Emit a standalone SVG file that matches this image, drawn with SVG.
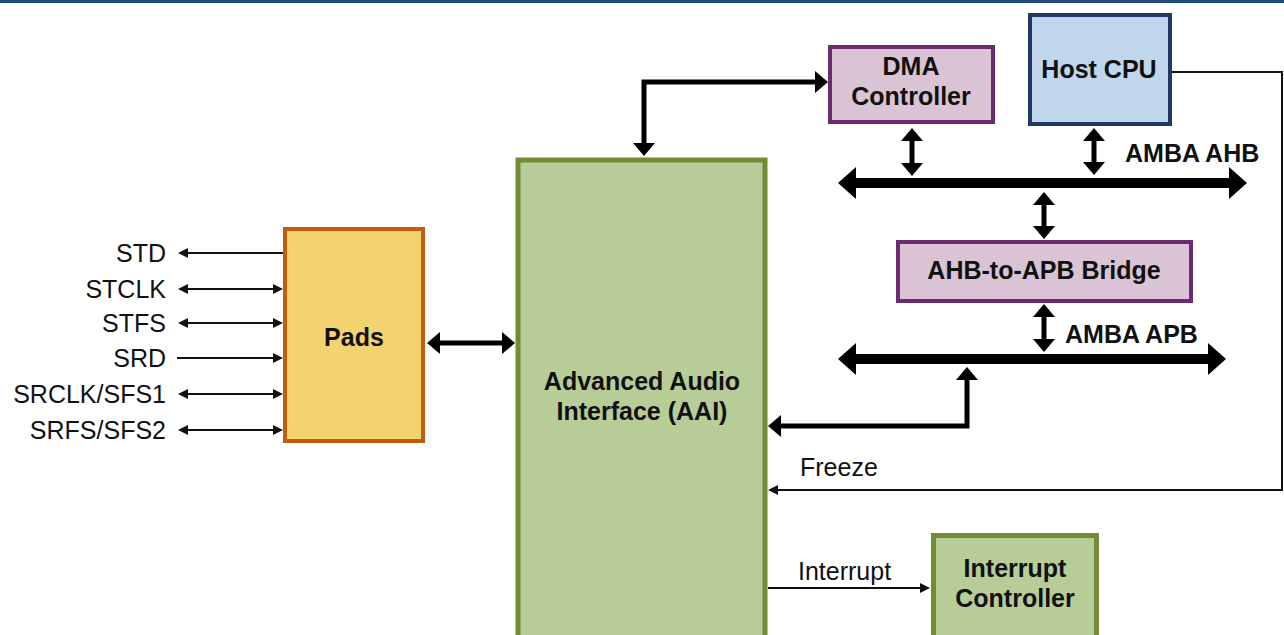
<svg xmlns="http://www.w3.org/2000/svg" width="1284" height="635" viewBox="0 0 1284 635">
<style>
text{font-family:"Liberation Sans",Arial,sans-serif;font-size:25px;fill:#111}
.b{font-weight:bold;text-anchor:middle}
.s{text-anchor:end}
.green{fill:#b8cc98;stroke:#728c35;stroke-width:5}
.purple{fill:#d9c3d4;stroke:#6a2c6e;stroke-width:4}
.thin{stroke:#111;stroke-width:2;fill:none}
.med{stroke:#000;stroke-width:5;fill:none}
.bus{stroke:#000;stroke-width:10;fill:none}
</style>
<defs>
<marker id="t" markerUnits="userSpaceOnUse" markerWidth="10" markerHeight="10" refX="5" refY="5" orient="auto-start-reverse"><path d="M0,0 L10,5 L0,10 z" fill="#111"/></marker>
<marker id="m" markerUnits="userSpaceOnUse" markerWidth="13" markerHeight="22" refX="5" refY="11" orient="auto-start-reverse"><path d="M0,0 L13,11 L0,22 z" fill="#000"/></marker>
<marker id="bh" markerUnits="userSpaceOnUse" markerWidth="18" markerHeight="32" refX="8" refY="16" orient="auto-start-reverse"><path d="M0,0 L18,16 L0,32 z" fill="#000"/></marker>
</defs>
<rect x="0" y="0" width="1284" height="3" fill="#1f497d"/>

<g id="connectors">
<line class="thin" x1="283" y1="253" x2="183" y2="253" marker-end="url(#t)"/>
<line class="thin" x1="183" y1="289" x2="278" y2="289" marker-start="url(#t)" marker-end="url(#t)"/>
<line class="thin" x1="183" y1="323" x2="278" y2="323" marker-start="url(#t)" marker-end="url(#t)"/>
<line class="thin" x1="177" y1="358" x2="278" y2="358" marker-end="url(#t)"/>
<line class="thin" x1="183" y1="394" x2="278" y2="394" marker-start="url(#t)" marker-end="url(#t)"/>
<line class="thin" x1="183" y1="430" x2="278" y2="430" marker-start="url(#t)" marker-end="url(#t)"/>
<line class="med" x1="435" y1="343" x2="507" y2="343" marker-start="url(#m)" marker-end="url(#m)"/>
<path class="med" d="M820 82 L644 82 L644 148" marker-start="url(#m)" marker-end="url(#m)"/>
<line class="med" x1="912" y1="136" x2="912" y2="168" marker-start="url(#m)" marker-end="url(#m)"/>
<line class="med" x1="1094" y1="136" x2="1094" y2="167" marker-start="url(#m)" marker-end="url(#m)"/>
<line class="med" x1="1044" y1="200" x2="1044" y2="231" marker-start="url(#m)" marker-end="url(#m)"/>
<line class="med" x1="1044" y1="312" x2="1044" y2="344" marker-start="url(#m)" marker-end="url(#m)"/>
<path class="med" d="M967 375 L967 426 L776 426" marker-start="url(#m)" marker-end="url(#m)"/>
<line class="bus" x1="848" y1="183" x2="1237" y2="183" marker-start="url(#bh)" marker-end="url(#bh)"/>
<line class="bus" x1="848" y1="359" x2="1216" y2="359" marker-start="url(#bh)" marker-end="url(#bh)"/>
<path class="thin" d="M1172 72 L1282 72 L1282 490 L773 490" marker-end="url(#t)"/>
<line class="thin" x1="768" y1="588" x2="925" y2="588" marker-end="url(#t)"/>
<text x="800" y="476">Freeze</text>
<text x="798" y="580">Interrupt</text>
<text x="1125" y="162" font-weight="bold">AMBA AHB</text>
<text x="1065" y="343" font-weight="bold">AMBA APB</text>
</g>

<g id="signals">
<text class="s" x="166" y="262">STD</text>
<text class="s" x="166" y="298">STCLK</text>
<text class="s" x="166" y="332">STFS</text>
<text class="s" x="166" y="367">SRD</text>
<text class="s" x="166" y="403">SRCLK/SFS1</text>
<text class="s" x="166" y="439">SRFS/SFS2</text>
</g>

<g id="pads">
<rect x="285" y="229" width="138" height="212" fill="#f3d36f" stroke="#c55a11" stroke-width="4"/>
<text class="b" x="354" y="346">Pads</text>
</g>

<g id="aai">
<rect class="green" x="518" y="160" width="247" height="500"/>
<text class="b" x="642" y="390">Advanced Audio</text>
<text class="b" x="642" y="420">Interface (AAI)</text>
</g>

<g id="dma">
<rect class="purple" x="830" y="47" width="163" height="75"/>
<text class="b" x="911" y="75">DMA</text>
<text class="b" x="911" y="105">Controller</text>
</g>

<g id="hostcpu">
<rect x="1030" y="15" width="140" height="109" fill="#bfd6ec" stroke="#1f3864" stroke-width="4"/>
<text class="b" x="1099" y="78">Host CPU</text>
</g>

<g id="bridge">
<rect class="purple" x="898" y="242" width="293" height="59"/>
<text class="b" x="1044" y="279">AHB-to-APB Bridge</text>
</g>

<g id="intc">
<rect class="green" x="933.500" y="535.500" width="163" height="120"/>
<text class="b" x="1015" y="577">Interrupt</text>
<text class="b" x="1015" y="607">Controller</text>
</g>
</svg>
